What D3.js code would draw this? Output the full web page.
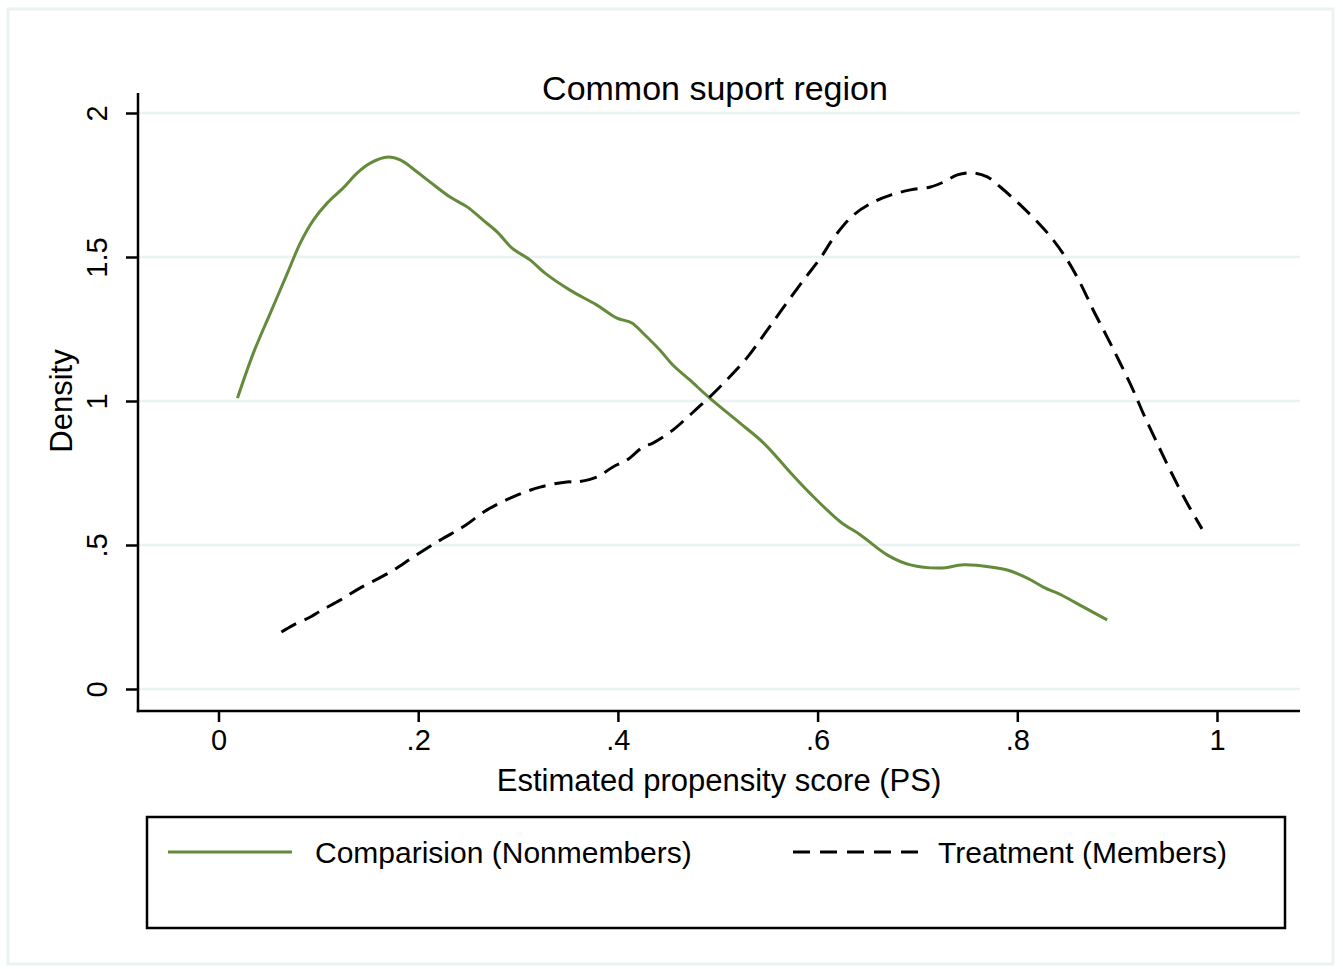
<!DOCTYPE html>
<html>
<head>
<meta charset="utf-8">
<script src="https://cdn.jsdelivr.net/npm/d3@7"></script>
<style>
  body { margin: 0; background: #fff; }
  text { font-family: "Liberation Sans", Arial, Helvetica, sans-serif; fill: #000; }
</style>
</head>
<body>
<div id="chart-area"></div>
<script>
// Kernel density estimates
let compX = [0.019, 0.035, 0.052, 0.069, 0.082, 0.095, 0.109, 0.125, 0.139, 0.152, 0.170, 0.182, 0.199, 0.212, 0.232, 0.249, 0.265, 0.279, 0.294, 0.312, 0.327, 0.352, 0.379, 0.399, 0.414, 0.425, 0.442, 0.455, 0.472, 0.492, 0.522, 0.546, 0.575, 0.592, 0.623, 0.643, 0.670, 0.693, 0.723, 0.746, 0.773, 0.790, 0.810, 0.826, 0.846, 0.866, 0.890];
let compY = [1.010, 1.167, 1.306, 1.444, 1.549, 1.628, 1.688, 1.740, 1.792, 1.826, 1.847, 1.837, 1.795, 1.760, 1.708, 1.674, 1.628, 1.587, 1.531, 1.490, 1.444, 1.385, 1.333, 1.288, 1.271, 1.236, 1.177, 1.125, 1.073, 1.010, 0.924, 0.854, 0.743, 0.681, 0.580, 0.535, 0.465, 0.431, 0.420, 0.431, 0.424, 0.413, 0.385, 0.354, 0.323, 0.285, 0.240];

let treatX = [0.063, 0.075, 0.092, 0.102, 0.122, 0.142, 0.172, 0.195, 0.222, 0.245, 0.269, 0.295, 0.322, 0.349, 0.359, 0.379, 0.395, 0.409, 0.425, 0.435, 0.455, 0.472, 0.492, 0.509, 0.529, 0.546, 0.564, 0.586, 0.603, 0.616, 0.636, 0.656, 0.673, 0.693, 0.713, 0.726, 0.740, 0.756, 0.770, 0.783, 0.803, 0.823, 0.836, 0.850, 0.863, 0.876, 0.890, 0.903, 0.916, 0.926, 0.940, 0.953, 0.970, 0.985];
let treatY = [0.198, 0.222, 0.250, 0.271, 0.309, 0.351, 0.406, 0.458, 0.517, 0.563, 0.622, 0.667, 0.701, 0.719, 0.719, 0.736, 0.771, 0.795, 0.840, 0.854, 0.899, 0.951, 1.014, 1.073, 1.149, 1.229, 1.316, 1.420, 1.497, 1.566, 1.646, 1.691, 1.715, 1.733, 1.743, 1.760, 1.785, 1.792, 1.778, 1.743, 1.681, 1.611, 1.559, 1.490, 1.410, 1.316, 1.222, 1.132, 1.038, 0.958, 0.854, 0.760, 0.646, 0.556];

let xTicks = [0, 0.2, 0.4, 0.6, 0.8, 1];
let xTickLabels = ["0", ".2", ".4", ".6", ".8", "1"];
let yTicks = [0, 0.5, 1, 1.5, 2];
let yTickLabels = ["0", ".5", "1", "1.5", "2"];
let seriesNames = ["Comparision (Nonmembers)", "Treatment (Members)"];

let W = 1343, H = 969;
let green = "#648a3c";
let grid = "#eaf2f3";

let svg = d3.select("#chart-area").append("svg")
    .attr("width", W)
    .attr("height", H);

// outer graph region border
svg.append("rect")
    .attr("x", 8).attr("y", 9)
    .attr("width", 1325).attr("height", 955)
    .attr("fill", "#fff")
    .attr("stroke", grid)
    .attr("stroke-width", 3);

// plot region edges
let plotLeft = 138, plotRight = 1300, plotTop = 93, plotBottom = 711;

let xScale = d3.scaleLinear().domain([0, 1]).range([218.5, 1217]);
let yScale = d3.scaleLinear().domain([0, 2]).range([689, 113]);

// gridlines
svg.append("g")
    .selectAll("line")
    .data(yTicks)
    .enter()
    .append("line")
    .attr("x1", plotLeft).attr("x2", plotRight)
    .attr("y1", d => yScale(d)).attr("y2", d => yScale(d))
    .attr("stroke", grid)
    .attr("stroke-width", 2.5);

// y axis
let yAxis = d3.axisLeft(yScale)
    .tickValues(yTicks)
    .tickFormat((d, i) => yTickLabels[i])
    .tickSize(12)
    .tickPadding(10);
let yg = svg.append("g")
    .attr("transform", "translate(" + plotLeft + ",0)")
    .call(yAxis);
yg.select(".domain").remove();
yg.selectAll(".tick line").attr("stroke", "#000").attr("stroke-width", 2.5);
yg.selectAll(".tick text")
    .attr("font-size", 29)
    .attr("text-anchor", "middle")
    .attr("x", 0).attr("dy", 0)
    .attr("transform", "translate(-41,0) rotate(-90)")
    .attr("dominant-baseline", "central")
    .style("font-family", "Liberation Sans, Arial, sans-serif");

// x axis
let xAxis = d3.axisBottom(xScale)
    .tickValues(xTicks)
    .tickFormat((d, i) => xTickLabels[i])
    .tickSize(11)
    .tickPadding(7);
let xg = svg.append("g")
    .attr("transform", "translate(0," + plotBottom + ")")
    .call(xAxis);
xg.select(".domain").remove();
xg.selectAll(".tick line").attr("stroke", "#000").attr("stroke-width", 2.5);
xg.selectAll(".tick text")
    .attr("font-size", 29)
    .style("font-family", "Liberation Sans, Arial, sans-serif");

// axis lines
svg.append("line")
    .attr("x1", plotLeft).attr("x2", plotLeft)
    .attr("y1", plotTop).attr("y2", plotBottom + 1.25)
    .attr("stroke", "#000").attr("stroke-width", 2.5);
svg.append("line")
    .attr("x1", plotLeft - 1.25).attr("x2", plotRight)
    .attr("y1", plotBottom).attr("y2", plotBottom)
    .attr("stroke", "#000").attr("stroke-width", 2.5);

// density lines
let line = d3.line()
    .x(d => xScale(d[0]))
    .y(d => yScale(d[1]))
    .curve(d3.curveCatmullRom);

svg.append("path")
    .attr("d", line(compX.map((x, i) => [x, compY[i]])))
    .attr("fill", "none")
    .attr("stroke", green)
    .attr("stroke-width", 3);

svg.append("path")
    .attr("d", line(treatX.map((x, i) => [x, treatY[i]])))
    .attr("fill", "none")
    .attr("stroke", "#000")
    .attr("stroke-width", 3)
    .attr("stroke-dasharray", "17,9");

// titles
svg.append("text")
    .attr("x", 715).attr("y", 100)
    .attr("text-anchor", "middle")
    .attr("font-size", 34)
    .text("Common suport region");

svg.append("text")
    .attr("x", 719).attr("y", 791)
    .attr("text-anchor", "middle")
    .attr("font-size", 31)
    .text("Estimated propensity score (PS)");

svg.append("text")
    .attr("transform", "translate(72,401) rotate(-90)")
    .attr("text-anchor", "middle")
    .attr("font-size", 31)
    .text("Density");

// legend
let legend = svg.append("g");
legend.append("rect")
    .attr("x", 147).attr("y", 817)
    .attr("width", 1138).attr("height", 111)
    .attr("fill", "#fff")
    .attr("stroke", "#000")
    .attr("stroke-width", 2.5);

legend.append("line")
    .attr("x1", 168).attr("x2", 292)
    .attr("y1", 852).attr("y2", 852)
    .attr("stroke", green).attr("stroke-width", 3);
legend.append("text")
    .attr("x", 315).attr("y", 863)
    .attr("font-size", 30)
    .text(seriesNames[0]);

legend.append("line")
    .attr("x1", 793).attr("x2", 918)
    .attr("y1", 852).attr("y2", 852)
    .attr("stroke", "#000").attr("stroke-width", 3)
    .attr("stroke-dasharray", "17,10");
legend.append("text")
    .attr("x", 938).attr("y", 863)
    .attr("font-size", 30)
    .text(seriesNames[1]);
</script>
</body>
</html>
